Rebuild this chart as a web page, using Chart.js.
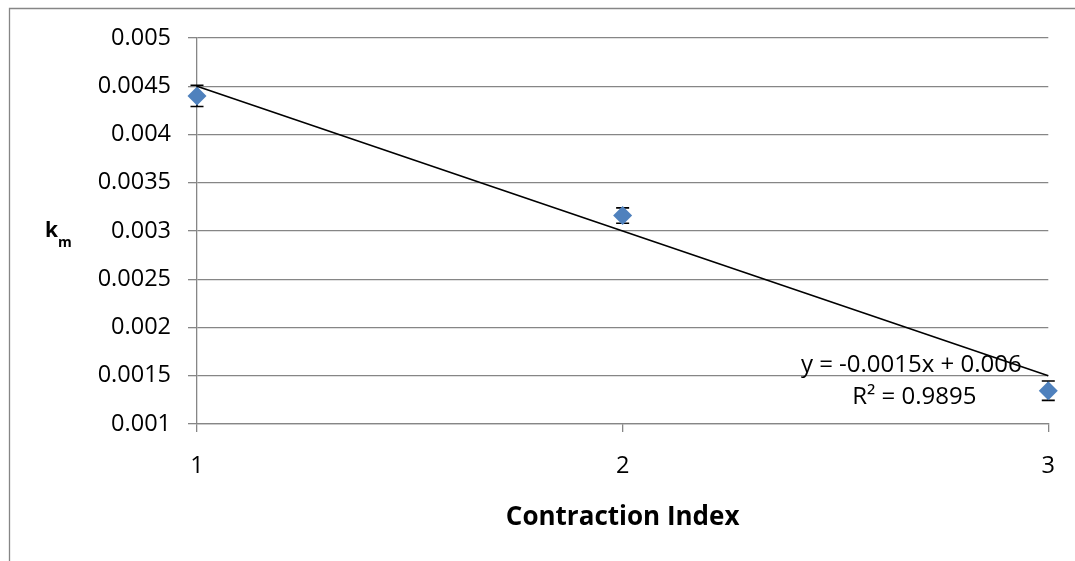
<!DOCTYPE html>
<html>
<head>
<meta charset="utf-8">
<script src="https://cdn.jsdelivr.net/npm/chart.js@4/dist/chart.umd.min.js"></script>
<style>
  html, body { margin: 0; padding: 0; background: #ffffff; }
  canvas { display: block; }
</style>
</head>
<body>
<canvas id="chart" width="1075" height="561"></canvas>
<script>
// Mass-transfer coefficient k_m against contraction index
const contractionIndex = [1, 2, 3];
const kmValues = [0.0044, 0.00316, 0.001345];
const kmErrors = [0.00011, 0.00008, 0.0001];

// Linear trendline as reported on the chart
const trendSlope = -0.0015;
const trendIntercept = 0.006;
const trendEquation = 'y = -0.0015x + 0.006';
const trendR2Text = 'R\u00B2 = 0.9895';

const xTickLabels = ['1', '2', '3'];
const yTickLabels = ['0.001', '0.0015', '0.002', '0.0025', '0.003', '0.0035', '0.004', '0.0045', '0.005'];

const FONT = "'Open Sans', sans-serif";
const GRID = '#868686';

const points = contractionIndex.map((x, i) => ({ x: x, y: kmValues[i] }));
const xMin = contractionIndex[0];
const xMax = contractionIndex[contractionIndex.length - 1];
const trendPoints = [xMin, xMax].map(x => ({ x: x, y: trendSlope * x + trendIntercept }));

const decor = {
  id: 'decor',
  beforeDraw(chart) {
    // outer frame (left and top edges)
    const ctx = chart.ctx;
    ctx.save();
    ctx.strokeStyle = GRID;
    ctx.lineWidth = 1.3;
    ctx.beginPath();
    ctx.moveTo(9.5, chart.height);
    ctx.lineTo(9.5, 8.5);
    ctx.lineTo(chart.width, 8.5);
    ctx.stroke();
    ctx.restore();
  },
  beforeDatasetsDraw(chart) {
    // error bars, drawn under the markers
    const ctx = chart.ctx;
    const xs = chart.scales.x, ys = chart.scales.y;
    ctx.save();
    ctx.strokeStyle = '#000000';
    ctx.lineWidth = 1.6;
    contractionIndex.forEach((x, i) => {
      const px = xs.getPixelForValue(x);
      const top = ys.getPixelForValue(kmValues[i] + kmErrors[i]);
      const bot = ys.getPixelForValue(kmValues[i] - kmErrors[i]);
      const cap = 6.5;
      ctx.beginPath();
      ctx.moveTo(px, top); ctx.lineTo(px, bot);
      ctx.moveTo(px - cap, top); ctx.lineTo(px + cap, top);
      ctx.moveTo(px - cap, bot); ctx.lineTo(px + cap, bot);
      ctx.stroke();
    });
    ctx.restore();
  },
  afterDraw(chart) {
    const ctx = chart.ctx;
    const area = chart.chartArea;
    ctx.save();
    ctx.fillStyle = '#000000';
    // y-axis title: k with subscript m
    ctx.textBaseline = 'alphabetic';
    ctx.textAlign = 'left';
    ctx.font = "bold 21px " + FONT;
    ctx.fillText('k', 45, 237);
    const kw = ctx.measureText('k').width;
    ctx.font = "bold 14px " + FONT;
    ctx.fillText('m', 45 + kw, 247);
    // trendline equation
    ctx.font = "24px " + FONT;
    ctx.textAlign = 'center';
    ctx.textBaseline = 'middle';
    ctx.fillText(trendEquation, area.right - 137, 365);
    ctx.fillText(trendR2Text, area.right - 134, 397);
    ctx.restore();
  }
};

new Chart(document.getElementById('chart'), {
  type: 'scatter',
  data: {
    datasets: [
      {
        type: 'line',
        data: trendPoints,
        borderColor: '#000000',
        borderWidth: 1.6,
        pointRadius: 0,
        fill: false,
        tension: 0,
        clip: false
      },
      {
        data: points,
        pointStyle: 'rectRot',
        pointRadius: 9.5,
        pointHoverRadius: 9.5,
        backgroundColor: '#4F81BD',
        borderColor: '#4F81BD',
        borderWidth: 0,
        clip: false
      }
    ]
  },
  options: {
    responsive: false,
    animation: false,
    devicePixelRatio: 1,
    layout: { padding: { top: 38, right: 24, left: 0, bottom: 0 } },
    plugins: { legend: { display: false }, tooltip: { enabled: false } },
    scales: {
      x: {
        type: 'linear',
        min: xMin,
        max: xMax,
        ticks: {
          stepSize: 1,
          padding: 20,
          color: '#000000',
          font: { family: FONT, size: 23.5 },
          callback: (v, i) => xTickLabels[i]
        },
        grid: { drawOnChartArea: false, color: GRID, lineWidth: 1.3, tickLength: 8 },
        border: { color: GRID, width: 1.3 },
        title: {
          display: true,
          text: 'Contraction Index',
          color: '#000000',
          font: { family: FONT, size: 26, weight: 'bold' },
          padding: { top: 0, bottom: 28 }
        },
        afterFit(s) { s.height = 137; }
      },
      y: {
        type: 'linear',
        min: 0.001,
        max: 0.005,
        ticks: {
          stepSize: 0.0005,
          padding: 17,
          color: '#000000',
          font: { family: FONT, size: 23.5 },
          callback: (v, i) => yTickLabels[i]
        },
        grid: { color: GRID, lineWidth: 1.3, tickLength: 9 },
        border: { color: GRID, width: 1.3 },
        afterFit(s) { s.width = 197; }
      }
    }
  },
  plugins: [decor]
});
</script>
</body>
</html>
